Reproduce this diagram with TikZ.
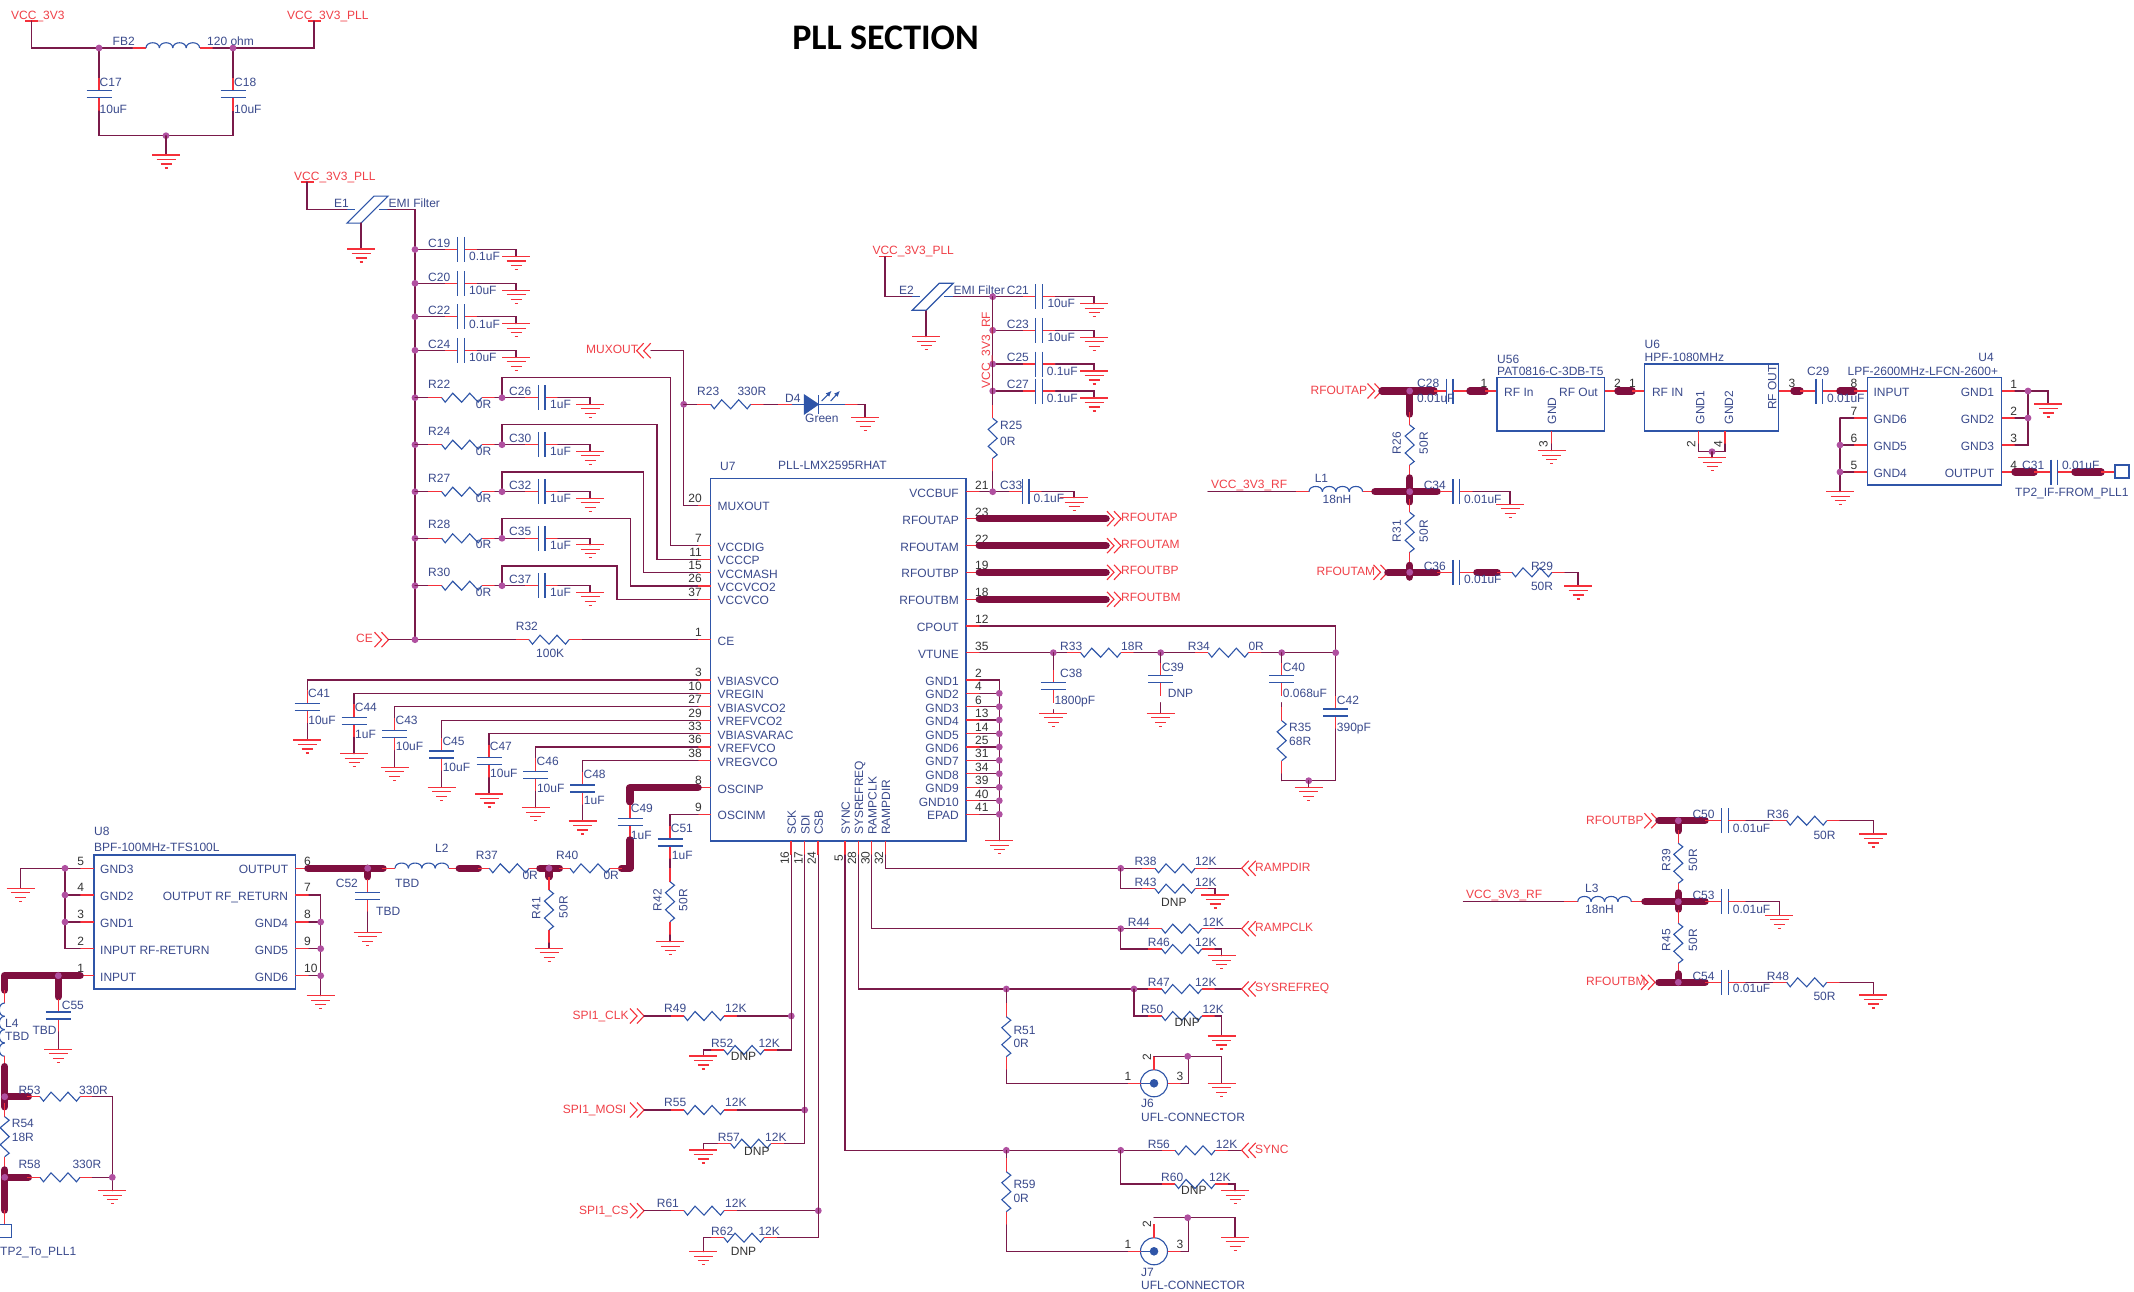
\documentclass[tikz,border=0pt]{standalone}
\usepackage{fontspec}
\usetikzlibrary{arrows.meta}
\setmainfont{Liberation Sans}
\newfontfamily\titlefont{Carlito}
\definecolor{wirec}{HTML}{7A1A4A}
\definecolor{thickc}{HTML}{7F0F3F}
\definecolor{pinc}{HTML}{F5303A}
\definecolor{compc}{HTML}{2F55A8}
\definecolor{labc}{HTML}{3A4A8C}
\definecolor{netc}{HTML}{F04048}
\definecolor{numc}{HTML}{333333}
\definecolor{junc}{HTML}{B050A0}
\newcounter{lbc}
\tikzset{
  wire/.style={draw=wirec,line width=1.1pt,line cap=round,line join=miter},
  thicknet/.style={draw=thickc,line width=7.5pt,line cap=round,line join=round},
  pin/.style={draw=pinc,line width=1.1pt},
  comp/.style={draw=compc,line width=1.1pt,line join=miter},
  gndbar/.style={draw=pinc,line width=1.1pt},
  basetxt/.style={inner sep=0pt,font=\fontsize{12}{14}\selectfont,text height=8.6pt,text depth=0pt},
  lab/.style={basetxt,text=labc,anchor=west},
  netl/.style={basetxt,text=netc,anchor=west},
  num/.style={basetxt,text=numc,anchor=center},
  chip/.style={draw=compc,line width=1.3pt}
}
\newcommand{\Lb}[4][]{\stepcounter{lbc}\node[lab,#1] (lb\arabic{lbc}) at ({#2},{#3}) {#4};}
\newcommand{\Nt}[4][]{\stepcounter{lbc}\node[netl,#1] (lb\arabic{lbc}) at ({#2},{#3}) {#4};}
\newcommand{\Nm}[4][]{\stepcounter{lbc}\node[num,#1] (lb\arabic{lbc}) at ({#2},{#3}) {#4};}
\newcommand{\W}[1]{\draw[wire] #1;}
\newcommand{\TK}[1]{\draw[thicknet] #1;}
\newcommand{\Rd}[1]{\draw[pin] #1;}
\newcommand{\Jn}[2]{\fill[junc] ({#1},{#2}) circle[radius=3.4pt];}
\newcommand{\GN}[2]{\draw[gndbar] ({#1-14},{#2})--({#1+14},{#2}) ({#1-9.5},{#2+4.5})--({#1+9.5},{#2+4.5}) ({#1-5.5},{#2+9})--({#1+5.5},{#2+9}) ({#1-1.5},{#2+13})--({#1+1.5},{#2+13});}
\newcommand{\PW}[2]{\draw[pin] ({#1-6.5},{#2})--({#1+6.5},{#2});}
\newcommand{\CRR}[2]{\draw[pin] ({#1-7},{#2-7.5})--({#1},{#2})--({#1-7},{#2+7.5}) ({#1-14},{#2-7.5})--({#1-7},{#2})--({#1-14},{#2+7.5});}
\newcommand{\CRL}[2]{\draw[pin] ({#1+7},{#2-7.5})--({#1},{#2})--({#1+7},{#2+7.5}) ({#1+14},{#2-7.5})--({#1+7},{#2})--({#1+14},{#2+7.5});}
\newcommand{\ZH}[2]{\draw[comp] ({#1},{#2})--({#1+3.5},{#2+4.5})--({#1+11},{#2-4.5})--({#1+20},{#2+4.5})--({#1+28},{#2-4.5})--({#1+36.5},{#2+4.5})--({#1+40},{#2});}
\newcommand{\RH}[2]{\draw[pin] ({#1-13.3},{#2})--({#1},{#2}) ({#1+40},{#2})--({#1+53.3},{#2});\ZH{#1}{#2}}
\newcommand{\RV}[2]{\draw[pin] ({#1},{#2-13.3})--({#1},{#2}) ({#1},{#2+40})--({#1},{#2+53.3});\draw[comp] ({#1},{#2})--({#1+4.5},{#2+3.5})--({#1-4.5},{#2+11})--({#1+4.5},{#2+20})--({#1-4.5},{#2+28})--({#1+4.5},{#2+36.5})--({#1},{#2+40});}
\newcommand{\CH}[2]{\draw[pin] ({#1-13},{#2})--({#1},{#2}) ({#1+6.7},{#2})--({#1+19.7},{#2});\draw[comp] ({#1},{#2-12.5})--({#1},{#2+12.5}) ({#1+6.7},{#2-12.5})--({#1+6.7},{#2+12.5});}
\newcommand{\CV}[2]{\draw[pin] ({#1},{#2-13})--({#1},{#2}) ({#1},{#2+7})--({#1},{#2+20});\draw[comp] ({#1-12.5},{#2})--({#1+12.5},{#2}) ({#1-12.5},{#2+7})--({#1+12.5},{#2+7});}
\newcommand{\IH}[2]{\draw[pin] ({#1-13.4},{#2})--({#1},{#2}) ({#1+53.6},{#2})--({#1+67},{#2});
  \foreach \ih in {0,13.4,26.8,40.2}{\draw[comp] ({#1+\ih},{#2}) .. controls ({#1+\ih},{#2-7}) and ({#1+\ih+13.4},{#2-7}) .. ({#1+\ih+13.4},{#2});}}
\newcommand{\EM}[2]{\draw[comp] ({#1},{#2+13.5})--({#1+27},{#2-13.5})--({#1+41},{#2-13.5})--({#1+14},{#2+13.5})--cycle; \draw[comp] ({#1},{#2})--({#1+8},{#2}) ({#1+32},{#2})--({#1+41},{#2});}
\newcommand{\UFL}[2]{\draw[comp] ({#1},{#2}) circle[radius=13.5pt]; \draw[comp] ({#1-13.5},{#2})--({#1},{#2}); \fill[compc] ({#1},{#2}) circle[radius=4.3pt];
  \draw[pin] ({#1-26.5},{#2})--({#1-13.5},{#2}) ({#1+13.5},{#2})--({#1+27},{#2}) ({#1},{#2-13.5})--({#1},{#2-27});}
\begin{document}
\begin{tikzpicture}[x=1pt,y=-1pt]
\fill[white] (0,0) rectangle (2134,1292);
\useasboundingbox (0,0) rectangle (2134,1292);
% title
\stepcounter{lbc}\node[inner sep=0pt,font=\titlefont\bfseries\fontsize{36}{40}\selectfont,text=black] (title) at (885.5,37.5) {PLL SECTION};
% FB2
\Nt{11}{15}{VCC\_3V3}\Nt{287}{15}{VCC\_3V3\_PLL}
\PW{31.7}{21}\PW{314}{21}
\W{(31.7,21)--(31.7,48)--(132.6,48)}\IH{146}{48}\W{(213,48)--(314,48)--(314,21)}
\W{(99,48)--(99,77.7)}\CV{99}{90.7}\W{(99,111)--(99,135.7)--(233,135.7)--(233,111)}\CV{233}{90.7}\W{(233,77.7)--(233,48)}
\Jn{99}{48}\Jn{233}{48}\Jn{166}{135.7}\W{(166,135.7)--(166,155)}\GN{166}{155}
\Lb{112.5}{41}{FB2}\Lb{207}{41}{120 ohm}\Lb{99.5}{82}{C17}\Lb{99.5}{109}{10uF}\Lb{234}{82}{C18}\Lb{234}{109}{10uF}
% E1
\Nt{294}{176}{VCC\_3V3\_PLL}\PW{307}{182}
\W{(307,182)--(307,209.7)--(347,209.7)}\EM{347}{209.7}\W{(388,209.7)--(415,209.7)--(415,639.7)}
\W{(361,223)--(361,249)}\GN{361}{249}
\Lb{334}{203}{E1}\Lb{388.4}{203}{EMI Filter}
\foreach \y/\cn/\cv/\vx in {249.5/C19/0.1uF/469,283.3/C20/10uF/469,316.7/C22/0.1uF/469,350.3/C24/10uF/469}{
  \W{(415,\y)--(444.6,\y)}\CH{457.6}{\y}\W{(477.3,\y)--(516,\y)--(516,\y+7)}\GN{516}{\y+7}\Jn{415}{\y}
  \Lb{428}{\y-6.5}{\cn}\Lb{\vx}{\y+7}{\cv}}
% R rows
\foreach \y/\t/\xr/\pp/\rn/\cn in {397.7/377.7/670.5/545.7/R22/C26,444.7/424.7/657/559.3/R24/C30,491.7/472/643.7/572.7/R27/C32,538.3/518.7/630.3/586/R28/C35,585.7/566/617/599.3/R30/C37}{
  \Jn{415}{\y}\W{(415,\y)--(428.4,\y)}\RH{441.7}{\y}\W{(495,\y)--(502,\y)}
  \W{(502,\y)--(525.3,\y)}\CH{538.3}{\y}\W{(558,\y)--(590,\y)--(590,\y+6.5)}\GN{590}{\y+6.5}
  \W{(502,\y)--(502,\t)--(\xr,\t)--(\xr,\pp)--(698,\pp)}\Jn{502}{\y}
  \Lb{428}{\y-14}{\rn}\Lb{475.7}{\y+6}{0R}\Lb{509}{\y-7}{\cn}\Lb{550}{\y+6.5}{1uF}}
% MUXOUT
\Nt{586}{349}{MUXOUT}\CRL{636.7}{350.7}\W{(651,350.7)--(683.7,350.7)--(683.7,505.3)--(698,505.3)}
\Jn{683.7}{404.3}\W{(683.7,404.3)--(697.4,404.3)}\RH{710.7}{404.3}\W{(764,404.3)--(778,404.3)}\Rd{(778,404.3)--(791.7,404.3)}
\draw[comp] (791.7,404.3)--(804.3,404.3) (818.3,404.3)--(845,404.3);
\filldraw[comp,fill=compc] (804.3,395)--(818.3,404.3)--(804.3,414)--cycle;\draw[comp] (818.3,395)--(818.3,414);
\draw[comp,-{Latex[length=6pt,width=5pt]}] (821.7,401)--(831.7,390.7);\draw[comp,-{Latex[length=6pt,width=5pt]}] (830.7,401)--(840,390.7);
\Rd{(845,404.3)--(858,404.3)}\W{(858,404.3)--(865,404.3)--(865,417.3)}\GN{865}{417.3}
\Lb{697}{390.7}{R23}\Lb{737.3}{391}{330R}\Lb{785}{397.7}{D4}\Lb{805}{417.7}{Green}
% CE
\Nt{356}{637.7}{CE}\CRR{388.5}{639.7}\W{(388.5,639.7)--(515.7,639.7)}\RH{529}{639.7}\W{(582.3,639.7)--(698,639.7)}\Jn{415}{639.7}
\Lb{515.7}{625.7}{R32}\Lb{536}{652.7}{100K}
% U7 box
\draw[chip] (710.8,478.3) rectangle (966,841);
\Lb{720}{466}{U7}\Lb{778}{465}{PLL-LMX2595RHAT}
\foreach \y/\n/\p in {505.3/MUXOUT/20,545.7/VCCDIG/7,559.3/VCCCP/11,572.7/VCCMASH/15,586/VCCVCO2/26,599.3/VCCVCO/37,639.7/CE/1,680/VBIASVCO/3,693.3/VREGIN/10,706.7/VBIASVCO2/27,720.3/VREFVCO2/29,733.7/VBIASVARAC/33,747/VREFVCO/36,760.7/VREGVCO/38,787.7/OSCINP/8,814.3/OSCINM/9}{
  \Rd{(698,\y)--(711,\y)}\Lb{717.5}{\y+1}{\n}\Nm[anchor=east]{702}{\y-7.5}{\p}}
\foreach \y/\n/\p in {491.7/VCCBUF/21,518.7/RFOUTAP/23,545.7/RFOUTAM/22,572.3/RFOUTBP/19,599.3/RFOUTBM/18,626/CPOUT/12,652.7/VTUNE/35,680/GND1/2,693.3/GND2/4,706.7/GND3/6,720/GND4/13,733.7/GND5/14,747/GND6/25,760.3/GND7/31,773.7/GND8/34,787.3/GND9/39,800.7/GND10/40,814.3/EPAD/41}{
  \Rd{(966,\y)--(980,\y)}\Lb[anchor=east]{959}{\y+1}{\n}\Nm[anchor=west]{975}{\y-7}{\p}}
% bottom pins
\foreach \x/\n/\p in {791/SCK/16,804.7/SDI/17,818/CSB/24,845/SYNC/5,858.3/SYSREFREQ/28,871.7/RAMPCLK/30,885.3/RAMPDIR/32}{
  \Rd{(\x,841)--(\x,855)}\Lb[rotate=90,anchor=west]{\x+0.5}{835}{\n}\Nm[rotate=90]{\x-6.5}{858}{\p}}
% GND column
\W{(980,680)--(999.3,680)--(999.3,840.7)}\GN{999.3}{840.7}
\foreach \y in {693.3,706.7,720,733.7,747,760.3,773.7,787.3,800.7,814.3}{\W{(980,\y)--(999.3,\y)}\Jn{999.3}{\y}}
% left decoupling
\foreach \x/\t/\pa/\g/\ly/\vy/\cn/\cv in {307.2/680/703.3/740/692.7/720/C41/10uF,354/693.3/717.3/753.7/706.7/733.7/C44/1uF,394.7/706.7/730.7/767.3/719.7/746.3/C43/10uF,441.6/720.3/751/787.3/740.7/766.7/C45/10uF,489/733.7/757.7/794/746.3/773.3/C47/10uF,535.8/747/771.3/807.7/760.7/787.7/C46/10uF,582.7/760.7/785/821/773.7/800.3/C48/1uF}{
  \W{(698,\t)--(\x,\t)--(\x,\pa-13)}\CV{\x}{\pa}\W{(\x,\pa+20)--(\x,\g)}\GN{\x}{\g}
  \Lb{\x+0.7}{\ly}{\cn}\Lb{\x+1}{\vy}{\cv}}
% OSC
\TK{(698,787.7)--(630,787.7)--(630,801.7)}\CV{630}{818.3}\TK{(630,840)--(630,868.3)--(621.7,868.3)}
\Lb{630.7}{807.7}{C49}\Lb{630.7}{835}{1uF}
\W{(698,814.3)--(670,814.3)--(670,826)}\CV{670}{839}\W{(670,859)--(670,868.4)}\RV{670}{881.7}\W{(670,935)--(670,941.7)}\GN{670}{941.7}
\Lb{670.7}{827.7}{C51}\Lb{671.7}{855}{1uF}\Nm[text=labc,rotate=90]{657.3}{900}{R42}\Nm[text=labc,rotate=90]{683}{900}{50R}
% U8 and chain
\draw[chip] (94,855) rectangle (295.3,989);
\Lb{94}{830.7}{U8}\Lb{94}{846.7}{BPF-100MHz-TFS100L}
\foreach \y/\n/\p in {868.3/GND3/5,895/GND2/4,922/GND1/3,948.7/INPUT RF-RETURN/2,975.7/INPUT/1}{\Rd{(80,\y)--(94,\y)}\Lb{100}{\y+1}{\n}\Nm{80.7}{\y-7.5}{\p}}
\foreach \y/\n/\p in {868.3/OUTPUT/6,895/OUTPUT RF\_RETURN/7,922/GND4/8,948.7/GND5/9,975.7/GND6/10}{\Rd{(295.3,\y)--(309,\y)}\Lb[anchor=east]{288.3}{\y+1}{\n}\Nm[anchor=west]{304}{\y-7.5}{\p}}
\W{(80,868.3)--(20.7,868.3)--(20.7,888.3)}\GN{20.7}{888.3}
\W{(80,895)--(65,895)}\W{(80,922)--(65,922)}\W{(65,868.3)--(65,948.7)--(80,948.7)}\Jn{65}{868.3}\Jn{65}{895}\Jn{65}{922}
\W{(309,895)--(320.7,895)--(320.7,995.7)}\W{(309,922)--(320.7,922)}\W{(309,948.7)--(320.7,948.7)}\W{(309,975.7)--(320.7,975.7)}\Jn{320.7}{922}\Jn{320.7}{948.7}\Jn{320.7}{975.7}\GN{320.7}{995.7}
\TK{(308,868.3)--(383,868.3)}\TK{(367.7,868.3)--(367.7,876.7)}\Jn{367.7}{868.3}
\CV{367.7}{892.3}\W{(367.7,912)--(367.7,932.3)}\GN{367.7}{932.3}
\Lb{335.7}{883.3}{C52}\Lb{376}{910.7}{TBD}
\IH{395}{868.3}\Lb{395}{882.7}{TBD}\Lb{435}{847.7}{L2}
\TK{(459.3,868.3)--(478.3,868.3)}\Rd{(478.3,868.3)--(489.3,868.3)}\ZH{489.3}{868.3}\Rd{(529.3,868.3)--(540,868.3)}
\TK{(540,868.3)--(559.3,868.3)}\TK{(549,868.3)--(549,876.7)}\Jn{549}{868.3}
\Rd{(559.3,868.3)--(570,868.3)}\ZH{570}{868.3}\Rd{(610,868.3)--(621.7,868.3)}
\Lb{475.7}{854.7}{R37}\Lb{522.3}{875}{0R}\Lb{556}{854.7}{R40}\Lb{603.3}{875}{0R}
\RV{549}{890}\W{(549,943)--(549,948.3)}\GN{549}{948.3}
\Nm[text=labc,rotate=90]{536}{908}{R41}\Nm[text=labc,rotate=90]{563.3}{907}{50R}
% INPUT side
\TK{(80,975.7)--(4.7,975.7)--(4.7,990)}\TK{(58.3,975.7)--(58.3,996.7)}\Jn{58.3}{975.7}
\CV{58.3}{1012}\W{(58.3,1032)--(58.3,1049.3)}\GN{58.3}{1049.3}
\Lb{61.7}{1005}{C55}\Lb{32.3}{1030}{TBD}
\Rd{(4.7,990)--(4.7,1003)}\foreach \iy in {1003,1016.3,1029.6,1043}{\draw[comp] (4.7,\iy) .. controls (-2.5,\iy) and (-2.5,\iy+13.3) .. (4.7,\iy+13.3);}\Rd{(4.7,1056.3)--(4.7,1066.7)}
\Lb{5}{1022.7}{L4}\Lb{5}{1036}{TBD}
\TK{(4.7,1066.7)--(4.7,1106.7)}\TK{(4.7,1096.7)--(28.3,1096.7)}\Jn{4.7}{1096.7}
\RH{40}{1096.7}\W{(92.3,1096.7)--(112.3,1096.7)--(112.3,1190.7)}\GN{112.3}{1190.7}
\Lb{18.3}{1090}{R53}\Lb{79}{1090}{330R}
\RV{4.7}{1116.7}\Lb{11.7}{1123.3}{R54}\Lb{11.7}{1136.7}{18R}
\TK{(4.7,1170)--(4.7,1210)}\TK{(4.7,1177.3)--(28.3,1177.3)}\Jn{4.7}{1177.3}
\RH{40}{1177.3}\W{(92.3,1177.3)--(112.3,1177.3)}\Jn{112.3}{1177.3}
\Lb{18.3}{1164}{R58}\Lb{72.3}{1164}{330R}
\Rd{(4.7,1210)--(4.7,1224.3)}\draw[chip] (-2,1224.3) rectangle (11.7,1237.7);\Lb{0}{1251}{TP2\_To\_PLL1}
% SPI
\foreach \y/\n/\lx/\rn/\xj/\rl in {1016/SPI1\_CLK/572.3/R49/791.3/664,1110/SPI1\_MOSI/562.7/R55/804.7/664,1210.7/SPI1\_CS/579/R61/818.3/656.7}{
  \Nt{\lx}{\y-1}{\n}\CRR{644}{\y}\W{(644,\y)--(670.7,\y)}\RH{684}{\y}\W{(737.3,\y)--(\xj,\y)}\Jn{\xj}{\y}
  \Lb{\rl}{\y-7.5}{\rn}\Lb{725}{\y-7.5}{12K}}
\W{(791.3,855)--(791.3,1050)--(777.3,1050)}\RH{724}{1050}\W{(710.7,1050)--(703.3,1050)--(703.3,1056)}\GN{703.3}{1056}
\Lb{711}{1042.7}{R52}\Lb{758.3}{1042.7}{12K}\Nm[anchor=west]{730.7}{1056}{DNP}
\W{(804.7,855)--(804.7,1143.7)--(784,1143.7)}\RH{730.7}{1143.7}\W{(717.4,1143.7)--(703.3,1143.7)--(703.3,1150)}\GN{703.3}{1150}
\Lb{717.7}{1136.7}{R57}\Lb{765}{1136.7}{12K}\Nm[anchor=west]{744}{1151}{DNP}
\W{(818.3,855)--(818.3,1237.7)--(777.3,1237.7)}\RH{724}{1237.7}\W{(710.7,1237.7)--(703.3,1237.7)--(703.3,1251.7)}\GN{703.3}{1251.7}
\Lb{711}{1230.7}{R62}\Lb{758.3}{1230.7}{12K}\Nm[anchor=west]{730.7}{1251}{DNP}
% RAMPDIR etc
\W{(885.3,855)--(885.3,868.3)--(1141.7,868.3)}\RH{1155}{868.3}\W{(1208.3,868.3)--(1241.7,868.3)}\CRL{1241.7}{868.3}\Jn{1120.7}{868.3}
\Nt{1255}{866.7}{RAMPDIR}\Lb{1134.3}{860.7}{R38}\Lb{1195}{860.7}{12K}
\W{(1120.7,868.3)--(1120.7,888.7)--(1141.7,888.7)}\RH{1155}{888.7}\W{(1208.3,888.7)--(1215,888.7)--(1215,895)}\GN{1215}{895}
\Lb{1134.3}{881.7}{R43}\Lb{1195}{881.7}{12K}\Nm[anchor=west]{1161}{901.7}{DNP}
\W{(871.7,855)--(871.7,928.7)--(1148.4,928.7)}\RH{1161.7}{928.7}\W{(1215,928.7)--(1241.7,928.7)}\CRL{1241.7}{928.7}\Jn{1120.7}{928.7}
\Nt{1255}{926.7}{RAMPCLK}\Lb{1127.7}{921.7}{R44}\Lb{1202.3}{921.7}{12K}
\W{(1120.7,928.7)--(1120.7,949)--(1148.4,949)}\RH{1161.7}{949}\W{(1215,949)--(1221.7,949)--(1221.7,955.7)}\GN{1221.7}{955.7}
\Lb{1147.7}{941.7}{R46}\Lb{1195}{941.7}{12K}
\W{(858.3,855)--(858.3,989)--(1148.4,989)}\RH{1161.7}{989}\W{(1215,989)--(1241.7,989)}\CRL{1241.7}{989}\Jn{1006.3}{989}\Jn{1134}{989}
\Nt{1255}{987.3}{SYSREFREQ}\Lb{1147.7}{981.7}{R47}\Lb{1195}{981.7}{12K}
\W{(1134,989)--(1134,1016)--(1148.4,1016)}\RH{1161.7}{1016}\W{(1215,1016)--(1221.7,1016)--(1221.7,1036)}\GN{1221.7}{1036}
\Lb{1141}{1009}{R50}\Lb{1202.3}{1009}{12K}\Nm[anchor=west]{1174.3}{1022.3}{DNP}
\W{(1006.3,989)--(1006.3,1003.4)}\RV{1006.3}{1016.7}\W{(1006.3,1070)--(1006.3,1083.3)--(1127.5,1083.3)}
\Lb{1013.3}{1030}{R51}\Lb{1013.3}{1042.7}{0R}
\UFL{1154}{1083.3}\W{(1181,1083.3)--(1188.3,1083.3)--(1188.3,1056.3)}\W{(1154,1056.3)--(1221.7,1056.3)--(1221.7,1083.3)}\Jn{1187.7}{1056.3}\GN{1221.7}{1083.3}
\Nm[rotate=90]{1146.7}{1056.7}{2}\Nm{1128}{1075.7}{1}\Nm{1180}{1075.7}{3}\Lb{1141}{1103}{J6}\Lb{1141}{1116.7}{UFL-CONNECTOR}
\W{(845,855)--(845,1150.3)--(1161.7,1150.3)}\RH{1175}{1150.3}\W{(1228.3,1150.3)--(1241.7,1150.3)}\CRL{1241.7}{1150.3}\Jn{1006.3}{1150.3}\Jn{1120.7}{1150.3}
\Nt{1255}{1149}{SYNC}\Lb{1147.7}{1143.7}{R56}\Lb{1215.7}{1143.7}{12K}
\W{(1120.7,1150.3)--(1120.7,1184)--(1161.7,1184)}\RH{1175}{1184}\W{(1228.3,1184)--(1235,1184)--(1235,1190.7)}\GN{1235}{1190.7}
\Lb{1161}{1176.7}{R60}\Lb{1209}{1176.7}{12K}\Nm[anchor=west]{1181}{1190}{DNP}
\W{(1006.3,1150.3)--(1006.3,1158.4)}\RV{1006.3}{1171.7}\W{(1006.3,1225)--(1006.3,1251.3)--(1127.5,1251.3)}
\Lb{1013.3}{1183.7}{R59}\Lb{1013.3}{1197.7}{0R}
\UFL{1154}{1251.3}\W{(1181,1251.3)--(1188.3,1251.3)--(1188.3,1217.7)}\W{(1154,1217.7)--(1235,1217.7)--(1235,1237.3)}\Jn{1187.7}{1217.7}\GN{1235}{1237.3}
\Nm[rotate=90]{1146.7}{1224}{2}\Nm{1128}{1243.7}{1}\Nm{1180}{1243.7}{3}\Lb{1141}{1271.7}{J7}\Lb{1141}{1285}{UFL-CONNECTOR}
% VTUNE / CPOUT
\W{(980,626)--(1335.7,626)--(1335.7,696)}\CV{1335.7}{709}\W{(1335.7,729)--(1335.7,780.7)--(1281.7,780.7)}\Jn{1308.7}{780.7}\W{(1308.7,780.7)--(1308.7,787.3)}\GN{1308.7}{787.3}
\W{(980,652.7)--(1067.4,652.7)}\RH{1080.7}{652.7}\W{(1134,652.7)--(1195,652.7)}\RH{1208.3}{652.7}\W{(1261.6,652.7)--(1335.7,652.7)}
\Jn{1053.3}{652.7}\Jn{1160.7}{652.7}\Jn{1281.7}{652.7}\Jn{1335.7}{652.7}
\W{(1053.3,652.7)--(1053.3,669.7)}\CV{1053.3}{682.7}\W{(1053.3,709.7)--(1053.3,713.3)}\GN{1053.3}{713.3}
\W{(1160.7,652.7)--(1160.7,662.7)}\CV{1160.7}{675.7}\W{(1160.7,702.7)--(1160.7,713.3)}\GN{1160.7}{713.3}
\W{(1281.7,652.7)--(1281.7,662.7)}\CV{1281.7}{675.7}\W{(1281.7,702.7)--(1281.7,707.4)}\RV{1281.7}{720.7}\W{(1281.7,774)--(1281.7,780.7)}
\Lb{1060}{672.7}{C38}\Lb{1054.3}{700}{1800pF}\Lb{1161.7}{666.7}{C39}\Lb{1167.7}{692.7}{DNP}\Lb{1282.7}{666.7}{C40}\Lb{1282.7}{692.7}{0.068uF}\Lb{1289}{726.7}{R35}\Lb{1289}{740.7}{68R}\Lb{1336.7}{700}{C42}\Lb{1336.7}{726.7}{390pF}
\Lb{1060}{646}{R33}\Lb{1121}{646}{18R}\Lb{1187.7}{646}{R34}\Lb{1248.3}{646}{0R}
% RFOUT thick
\foreach \y/\n/\ny in {518.7/RFOUTAP/516.7,545.7/RFOUTAM/543.7,572.3/RFOUTBP/570.3,599.3/RFOUTBM/597.3}{\TK{(979.3,\y)--(1106,\y)}\CRR{1121}{\y}\Nt{1121}{\ny}{\n}}
% E2 branch
\Nt{872.3}{250}{VCC\_3V3\_PLL}\PW{885}{256.7}\W{(885,256.7)--(885,296.7)--(912.3,296.7)}\EM{912.3}{296.7}\W{(953.3,296.7)--(1022.7,296.7)}\W{(926,311)--(926,336.7)}\GN{926}{336.7}
\Lb{899}{290}{E2}\Lb{953.3}{290}{EMI Filter}
\foreach \y/\cn/\cv/\vx/\ly in {296.7/C21/10uF/1047.3/290,330.3/C23/10uF/1047.3/323.7,364/C25/0.1uF/1046.7/356.7,391/C27/0.1uF/1046.7/383.7}{
  \W{(992.7,\y)--(1022.7,\y)}\CH{1035.7}{\y}\W{(1055.4,\y)--(1094,\y)--(1094,\y+7)}\GN{1094}{\y+7}\Jn{992.7}{\y}\Lb{1006.7}{\ly}{\cn}\Lb{\vx}{\y+6.7}{\cv}}
\W{(992.7,296.7)--(992.7,405)}\RV{992.7}{418.3}\W{(992.7,471.6)--(992.7,491.7)}\Lb{1000}{425}{R25}\Lb{1000}{440.7}{0R}
\Nt[rotate=90,anchor=center]{985.7}{350}{VCC\_3V3\_RF}
\W{(980,491.7)--(1009.3,491.7)}\CH{1022.3}{491.7}\W{(1042,491.7)--(1074,491.7)--(1074,497.7)}\GN{1074}{497.7}\Jn{992.7}{491.7}
\Lb{1000}{485}{C33}\Lb{1033.3}{498.3}{0.1uF}
% RF top: RFOUTAP
\Nt{1310.4}{390}{RFOUTAP}\CRR{1381.5}{391}
\TK{(1382,391)--(1434,391)}\TK{(1409.7,391)--(1409.7,414)}\Jn{1409.7}{391}
\Rd{(1434,391)--(1446.5,391)}\draw[comp] (1446.5,378.5)--(1446.5,403.5) (1453,378.5)--(1453,403.5);\Rd{(1453,391)--(1467,391)}
\TK{(1470,391)--(1485,391)}\Rd{(1485,391)--(1497,391)}
\Lb{1417}{383.3}{C28}\Lb{1417}{398}{0.01uF}\Nm{1484}{383}{1}
\RV{1409.7}{425}\Nm[text=labc,rotate=90]{1396.5}{443.3}{R26}\Nm[text=labc,rotate=90]{1423.6}{443.3}{50R}
\draw[chip] (1497,377.3) rectangle (1604.8,431);
\Lb{1497}{359}{U56}\Lb{1497}{371}{PAT0816-C-3DB-T5}\Lb{1504}{391.7}{RF In}\Lb[anchor=east]{1598}{391.7}{RF Out}\Lb[rotate=90,anchor=center]{1551.8}{411}{GND}
\Rd{(1551.8,431)--(1551.8,444)}\W{(1551.8,444)--(1551.8,450.7)}\GN{1551.8}{450.7}\Nm[rotate=90]{1543.4}{444}{3}
\Rd{(1604.8,391)--(1616,391)}\TK{(1618,391)--(1632,391)}\Rd{(1632,391)--(1644.5,391)}\Nm{1617.5}{383}{2}\Nm{1632.5}{383}{1}
\draw[chip] (1644.5,364) rectangle (1778.8,431);
\Lb{1644.5}{344}{U6}\Lb{1644.5}{357.3}{HPF-1080MHz}\Lb{1651.8}{391.7}{RF IN}
\Lb[rotate=90,anchor=west]{1700}{424.3}{GND1}\Lb[rotate=90,anchor=west]{1728.8}{424.3}{GND2}\Lb[rotate=90,anchor=west]{1772}{410}{RF OUT}
\Rd{(1698.7,431)--(1698.7,444)}\Rd{(1725,431)--(1725,444)}\W{(1698.7,444)--(1698.7,451.7)--(1725,451.7)--(1725,444)}\Jn{1712}{451.7}\W{(1712,451.7)--(1712,457.7)}\GN{1712}{457.7}
\Nm[rotate=90]{1691}{444}{2}\Nm[rotate=90]{1718}{444}{4}
\Rd{(1778.8,391)--(1792,391)}\TK{(1794,391)--(1800,391)}\Rd{(1800,391)--(1816,391)}\draw[comp] (1816,378.5)--(1816,403.5) (1822.5,378.5)--(1822.5,403.5);\Rd{(1822.5,391)--(1838,391)}\TK{(1840,391)--(1854,391)}\Rd{(1854,391)--(1867.3,391)}
\Nm{1792}{383}{3}\Nm{1854}{383}{8}\Lb{1807}{370.7}{C29}\Lb{1827}{398}{0.01uF}
\draw[chip] (1867.3,377.3) rectangle (2001.6,485);
\Lb[anchor=east]{1994}{357}{U4}\Lb{1847.5}{371}{LPF-2600MHz-LFCN-2600+}
\foreach \y/\n/\p in {391/INPUT/8,418/GND6/7,445/GND5/6,472/GND4/5}{\Lb{1873.3}{\y+1}{\n}}
\foreach \y/\p in {418/7,445/6,472/5}{\Rd{(1853.7,\y)--(1867.3,\y)}\W{(1840,\y)--(1853.7,\y)}\Nm{1854}{\y-7}{\p}}
\W{(1840,418)--(1840,491.7)}\Jn{1840}{445}\Jn{1840}{472}\GN{1840}{491.7}
\foreach \y/\n/\p in {391/GND1/1,418/GND2/2,445/GND3/3,472/OUTPUT/4}{\Lb[anchor=east]{1994.3}{\y+1}{\n}\Rd{(2001.6,\y)--(2015,\y)}\Nm{2013.6}{\y-7}{\p}}
\W{(2015,391)--(2048,391)--(2048,404)}\W{(2015,418)--(2028,418)}\W{(2015,445)--(2028,445)--(2028,391)}\Jn{2028}{391}\Jn{2028}{418}\GN{2048}{404}
\TK{(2015,472)--(2034,472)}\Rd{(2034,472)--(2051,472)}\draw[comp] (2051,459.5)--(2051,484.5) (2057.7,459.5)--(2057.7,484.5);\Rd{(2057.7,472)--(2074,472)}\TK{(2075,472)--(2101,472)}\Rd{(2101,472)--(2115,472)}
\draw[chip] (2115,465) rectangle (2129,478);
\Lb{2022}{464.7}{C31}\Lb{2061.8}{464.7}{0.01uF}\Lb{2015}{492.3}{TP2\_IF-FROM\_PLL1}
% L1
\Nt{1211}{484}{VCC\_3V3\_RF}\W{(1208,491.7)--(1295.6,491.7)}\IH{1309}{491.7}\TK{(1375,491.7)--(1437,491.7)}\TK{(1409.7,478)--(1409.7,501.7)}\Jn{1409.7}{491.7}
\Lb{1314.6}{478.3}{L1}\Lb{1322.5}{499}{18nH}
\Rd{(1440,491.7)--(1453,491.7)}\draw[comp] (1453,479.2)--(1453,504.2) (1459.7,479.2)--(1459.7,504.2);\Rd{(1459.7,491.7)--(1473,491.7)}\W{(1473,491.7)--(1510,491.7)--(1510,504.3)}\GN{1510}{504.3}
\Lb{1423.6}{485}{C34}\Lb{1464}{499.3}{0.01uF}
\RV{1409.7}{512.3}\Nm[text=labc,rotate=90]{1396.5}{531}{R31}\Nm[text=labc,rotate=90]{1423.6}{531}{50R}
% RFOUTAM
\Nt{1316.4}{570.7}{RFOUTAM}\CRR{1387.5}{572.3}\TK{(1388,572.3)--(1437,572.3)}\TK{(1409.7,565.5)--(1409.7,577)}\Jn{1409.7}{572.3}
\Rd{(1437,572.3)--(1453,572.3)}\draw[comp] (1453,559.8)--(1453,584.8) (1459.7,559.8)--(1459.7,584.8);\Rd{(1459.7,572.3)--(1475,572.3)}\TK{(1477,572.3)--(1497,572.3)}\Rd{(1497,572.3)--(1512,572.3)}\ZH{1512}{572.3}\Rd{(1552,572.3)--(1565,572.3)}\W{(1565,572.3)--(1578,572.3)--(1578,586)}\GN{1578}{586}
\Lb{1423.6}{565.7}{C36}\Lb{1464}{579}{0.01uF}\Lb{1530.8}{565.7}{R29}\Lb{1530.8}{586}{50R}
% RFOUTB block
\Nt{1586}{820}{RFOUTBP}\CRR{1658.3}{820.7}\TK{(1659,820.7)--(1705,820.7)}\TK{(1678.3,820.7)--(1678.3,830.7)}\Jn{1678.3}{820.7}
\Rd{(1705,820.7)--(1721.7,820.7)}\draw[comp] (1721.7,808.2)--(1721.7,833.2) (1728.3,808.2)--(1728.3,833.2);\Rd{(1728.3,820.7)--(1746,820.7)}\W{(1746,820.7)--(1773.4,820.7)}\RH{1786.7}{820.7}\W{(1840,820.7)--(1873.3,820.7)--(1873.3,834)}\GN{1873.3}{834}
\Lb{1692.3}{814}{C50}\Lb{1732.7}{828}{0.01uF}\Lb{1766.7}{814}{R36}\Lb{1813.3}{835}{50R}
\RV{1678.3}{843.3}\Nm[text=labc,rotate=90]{1666}{860}{R39}\Nm[text=labc,rotate=90]{1692.7}{860}{50R}
\Nt{1466}{894}{VCC\_3V3\_RF}\W{(1463.3,901.7)--(1564.3,901.7)}\IH{1577.7}{901.7}\TK{(1645,901.7)--(1705,901.7)}\TK{(1678.3,893)--(1678.3,909)}\Jn{1678.3}{901.7}
\Lb{1585}{887.7}{L3}\Lb{1585}{909}{18nH}
\Rd{(1705,901.7)--(1721.7,901.7)}\draw[comp] (1721.7,889.2)--(1721.7,914.2) (1728.3,889.2)--(1728.3,914.2);\Rd{(1728.3,901.7)--(1746,901.7)}\W{(1746,901.7)--(1779.3,901.7)--(1779.3,915.3)}\GN{1779.3}{915.3}
\Lb{1692.3}{894.7}{C53}\Lb{1732.7}{908.7}{0.01uF}
\RV{1678.3}{923.3}\Nm[text=labc,rotate=90]{1666}{940}{R45}\Nm[text=labc,rotate=90]{1692.7}{940}{50R}
\Nt{1586}{980.7}{RFOUTBM}\CRR{1655}{982.3}\TK{(1659,982.3)--(1705,982.3)}\TK{(1678.3,974)--(1678.3,982.3)}\Jn{1678.3}{982.3}
\Rd{(1705,982.3)--(1721.7,982.3)}\draw[comp] (1721.7,969.8)--(1721.7,994.8) (1728.3,969.8)--(1728.3,994.8);\Rd{(1728.3,982.3)--(1746,982.3)}\W{(1746,982.3)--(1773.4,982.3)}\RH{1786.7}{982.3}\W{(1840,982.3)--(1873.3,982.3)--(1873.3,995)}\GN{1873.3}{995}
\Lb{1692.3}{975.7}{C54}\Lb{1732.7}{988.3}{0.01uF}\Lb{1766.7}{975.7}{R48}\Lb{1813.3}{995.7}{50R}
\end{tikzpicture}
\end{document}
